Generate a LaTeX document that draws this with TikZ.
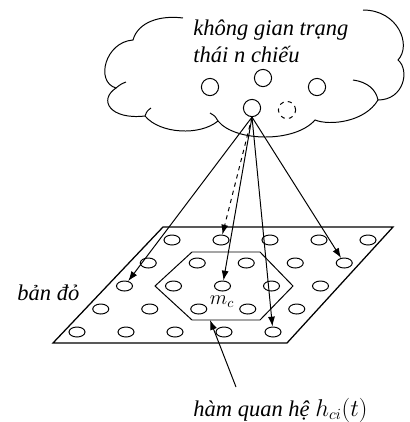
\documentclass[tikz,border=0pt]{standalone}
\usepackage{fontspec}
\setmainfont{Liberation Serif}
\usetikzlibrary{arrows.meta,shapes.geometric}

\begin{document}
\begin{tikzpicture}[x=0.025cm, y=-0.025cm, line width=0.7pt,
    cell/.style={ellipse, draw, inner sep=0pt, minimum width=0.4cm, minimum height=0.25cm},
    state/.style={circle, draw, inner sep=0pt, minimum size=0.43cm},
    lbl/.style={font=\fontsize{16}{19.2}\selectfont\itshape, inner sep=0pt, align=left},
    >={Latex[length=7pt,width=5pt]}]
    \useasboundingbox (0,0) rectangle (409,422);
    \draw (183,18) .. controls (160,15) and (138,22) .. (133,40)
        .. controls (105,42) and (95,82) .. (116,88)
        .. controls (98,100) and (110,120) .. (145,116)
        .. controls (160,134) and (200,136) .. (218,121)
        .. controls (235,142) and (295,143) .. (315,120)
        .. controls (330,126) and (365,122) .. (378,100)
        .. controls (404,100) and (410,70) .. (398,60)
        .. controls (412,45) and (398,10) .. (363,10);
    \draw (126,82) .. controls (121,84) .. (116,88);
    \draw (145,116) .. controls (147,111) .. (151,108);
    \draw (218,121) .. controls (215,116) .. (210,113);
    \draw (353,80) .. controls (368,82) and (376,90) .. (378,100);
    \node[lbl, anchor=west] (space) at (193,41) {không gian trạng\\thái n chiếu};
    \node[state] (c1) at (210,87) {};
    \node[state] (c2) at (263,78) {};
    \node[state] (c3) at (317,87) {};
    \node[state] (src) at (252,108) {};
    \node[state, dashed] (ghost) at (287,110) {};
    \draw[line width=0.9pt] (53,343) -- (287,343) -- (393,227) -- (163,227) -- cycle;
    \draw (192,252) -- (260,252) -- (293,286) -- (260,320) -- (192,320) -- (155,286) -- cycle;
    \foreach \r in {0,...,4}
        \foreach \c in {0,...,4}
            \node[cell] (e-\r-\c) at ({172-23.75*\r+49*\c},{240+23*\r}) {};
    \node[font=\fontsize{14}{16}\selectfont, inner sep=0pt] (mc) at (222,302) {$m_c$};
    \node[lbl, anchor=west] (map) at (17,293) {bản đỏ};
    \node[lbl, anchor=west] (rel) at (193,410) {hàm quan hệ~$h_{ci}(t)$};
    \draw[->] (src.south) -- (e-2-0);
    \draw[->, dashed] (src.south) -- (e-0-1);
    \draw[->] (src.south) -- (e-2-2);
    \draw[->] (src.south) -- (e-4-4);
    \draw[->] (src.south) -- (e-1-4);
    \coordinate (relfoot) at (236,387);
    \coordinate (hexb) at (210,320);
    \draw[->] (relfoot) -- (hexb);
\end{tikzpicture}
\end{document}
